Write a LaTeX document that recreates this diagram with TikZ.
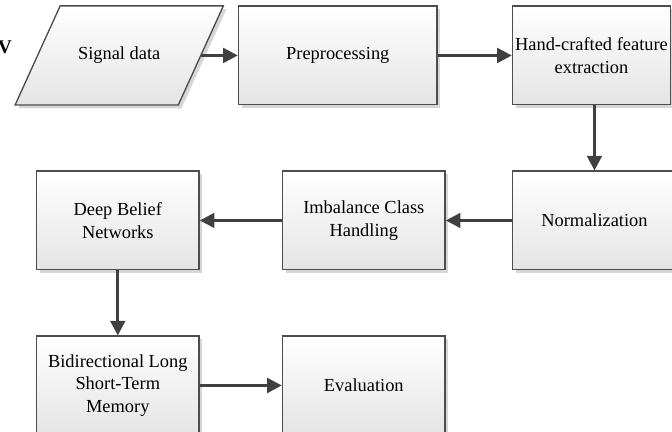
\documentclass[tikz,border=0pt]{standalone}
\usepackage{fontspec}
\setmainfont{Liberation Serif}
\usepackage{xcolor}
\definecolor{cLine}{HTML}{4D4D4D}
\definecolor{cArrow}{HTML}{404040}
\definecolor{cShade}{HTML}{E4E4E4}
\definecolor{cShadow}{HTML}{D6D6D6}
\usetikzlibrary{positioning,arrows.meta,shadows,backgrounds}
\tikzset{
  node-fill/.style={draw=cLine,line width=1pt,top color=white,bottom color=cShade,
    drop shadow={shadow xshift=2.4pt,shadow yshift=-2.4pt,fill=cShadow,opacity=1}},
  node-text/.style={minimum height=74pt,minimum width=122pt,align=center,
    inner sep=2pt,font=\fontsize{13.8pt}{16.9pt}\selectfont},
  node-box/.style={node-fill,node-text},
  arrow/.style={-{Triangle[length=11pt,width=11pt]},line width=2.2pt,draw=cArrow},
}

\begin{document}
\begin{tikzpicture}[node distance=48.75pt and 61.5pt]
  \useasboundingbox (0,0) rectangle (504pt,-324pt);
  % first row
  \node[node-text] (sig) at (89.4pt,-41.6pt) {Signal data};
  \node[node-box,right=27.75pt of sig,minimum width=149pt] (pre) {Preprocessing};
  \node[node-box,right=55.5pt of pre,minimum width=118.5pt] (hand)
    {Hand-crafted feature\\extraction};
  % second row
  \node[node-box,below=48.75pt of hand.south west,anchor=north west,
    minimum width=123pt] (norm) {Normalization};
  \node[node-box,left=49.5pt of norm] (imb) {Imbalance Class\\Handling};
  \node[node-box,left=of imb] (dbn) {Deep Belief\\Networks};
  % third row
  \node[node-box,below=of dbn] (bilstm) {Bidirectional Long\\Short-Term\\Memory};
  \node[node-box,right=of bilstm] (eval) {Evaluation};
  % cut-off letter at the left border
  \node[font=\fontsize{14.5pt}{16pt}\selectfont\bfseries,inner sep=0pt] (frag)
    at (3.6pt,-35.2pt) {V};

  % data parallelogram behind its text
  \begin{scope}[on background layer]
    \draw[node-fill] ([xshift=-16.9pt]sig.south west) -- ([xshift=16.9pt]sig.north west)
      -- ([xshift=16.9pt]sig.north east) -- ([xshift=-16.9pt]sig.south east) -- cycle;
  \end{scope}

  \draw[arrow] (sig) -- (pre);
  \draw[arrow] (pre) -- (hand);
  \draw[arrow] (hand.south -| norm.north) -- (norm.north);
  \draw[arrow] (norm) -- (imb);
  \draw[arrow] (imb) -- (dbn);
  \draw[arrow] (dbn) -- (bilstm);
  \draw[arrow] (bilstm) -- (eval);
\end{tikzpicture}
\end{document}
